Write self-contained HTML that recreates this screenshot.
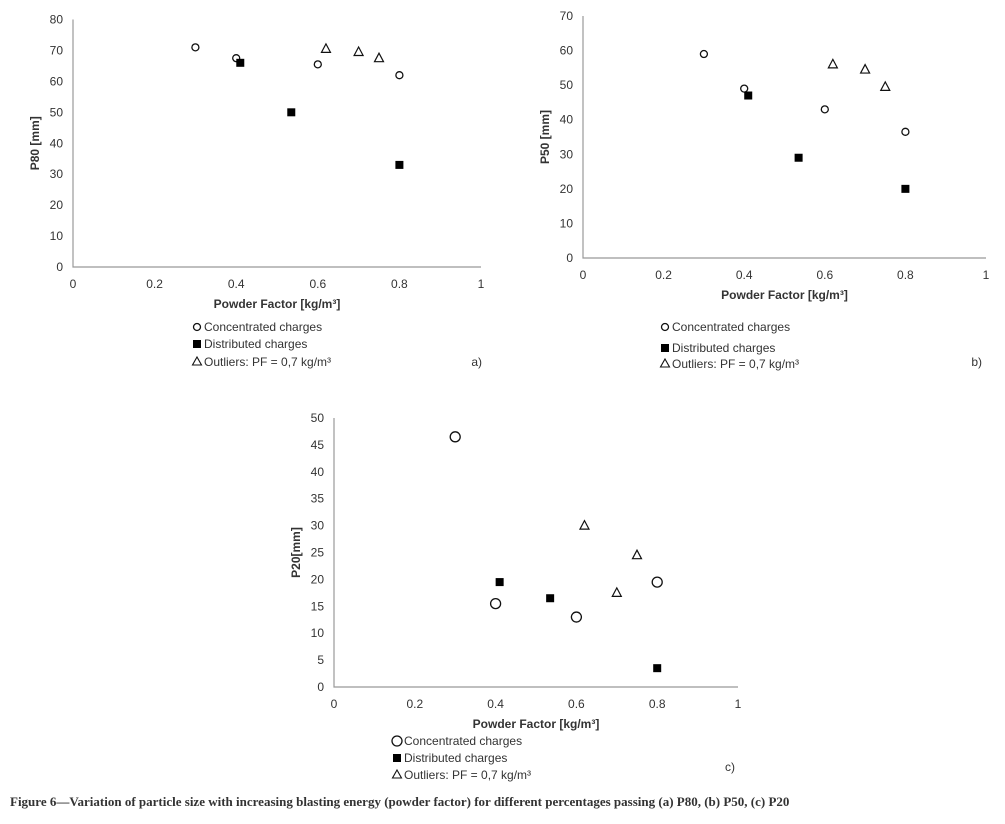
<!DOCTYPE html>
<html><head><meta charset="utf-8"><style>
body{margin:0;background:#fff;width:1005px;height:824px;overflow:hidden}
svg{display:block}
text{font-family:"Liberation Sans",sans-serif;fill:#333}
</style></head><body>
<svg id="fig" width="1005" height="824" viewBox="0 0 1005 824"></svg>
<script>
const xTicks=[0,0.2,0.4,0.6,0.8,1];
const xTickLabels=["0","0.2","0.4","0.6","0.8","1"];
const aConcX=[0.3,0.4,0.6,0.8];const aConcY=[71,67.5,65.5,62];
const aDistX=[0.41,0.535,0.8];const aDistY=[66,50,33];
const aOutX=[0.62,0.7,0.75];const aOutY=[70.5,69.5,67.5];
const bConcX=[0.3,0.4,0.6,0.8];const bConcY=[59,49,43,36.5];
const bDistX=[0.41,0.535,0.8];const bDistY=[47,29,20];
const bOutX=[0.62,0.7,0.75];const bOutY=[56,54.5,49.5];
const cConcX=[0.3,0.4,0.6,0.8];const cConcY=[46.5,15.5,13,19.5];
const cDistX=[0.41,0.535,0.8];const cDistY=[19.5,16.5,3.5];
const cOutX=[0.62,0.7,0.75];const cOutY=[30,17.5,24.5];
const aYTicks=[0,10,20,30,40,50,60,70,80];
const bYTicks=[0,10,20,30,40,50,60,70];
const cYTicks=[0,5,10,15,20,25,30,35,40,45,50];

const svg=document.getElementById('fig');const NS='http://www.w3.org/2000/svg';
function mk(tag,attrs,parent,txt){const e=document.createElementNS(NS,tag);for(const k in attrs)e.setAttribute(k,attrs[k]);if(txt!==undefined)e.textContent=txt;(parent||svg).appendChild(e);return e;}

function chart(id,cfg){
  const g=mk('g',{});
  
  
  const sx=v=>cfg.x0+(cfg.x1-cfg.x0)*v;
  const sy=v=>cfg.y0-(cfg.y0-cfg.yTop)*v/cfg.yMax;
  const ax=mk('path',{d:`M${cfg.x0},${cfg.yTop} V${cfg.y0} H${cfg.x1}`,stroke:'#999',fill:'none','stroke-width':1.2},g);
  
  cfg.yTicks.forEach(t=>{const e=mk('text',{x:cfg.x0-10,y:sy(t)+4,'text-anchor':'end','font-size':cfg.fs},g,String(t));
    });
  xTicks.forEach((t,i)=>{const e=mk('text',{x:sx(t),y:cfg.y0+21,'text-anchor':'middle','font-size':cfg.fs},g,xTickLabels[i]);
    });
  const xt=mk('text',{x:(cfg.x0+cfg.x1)/2,y:cfg.y0+41,'text-anchor':'middle','font-size':cfg.fs,'font-weight':'bold',fill:'#222'},g,'Powder Factor [kg/m³]');
  
  const yx=cfg.x0-34,yy=(cfg.y0+cfg.yTop)/2;
  const yt=mk('text',{x:yx,y:yy,'text-anchor':'middle','font-size':cfg.fs,'font-weight':'bold',fill:'#222',transform:`rotate(-90 ${yx} ${yy})`},g,cfg.ylabel);
  
  const r=cfg.r;
  cfg.cx.forEach((v,i)=>{const e=mk('circle',{cx:sx(v),cy:sy(cfg.cy[i]),r:r,fill:'#fff',stroke:'#111','stroke-width':1.3},g);
    });
  cfg.dx.forEach((v,i)=>{const e=mk('rect',{x:sx(v)-4,y:sy(cfg.dy[i])-4,width:8,height:8,fill:'#000'},g);
    });
  cfg.ox.forEach((v,i)=>{const px=sx(v),py=sy(cfg.oy[i]);
    const e=mk('path',{d:`M${px},${py-5} L${px+4.5},${py+3.5} L${px-4.5},${py+3.5} Z`,fill:'#fff',stroke:'#111','stroke-width':1.2},g);
    });
  const L=cfg.leg;
  const l1=mk('g',{},g);
  mk('circle',{cx:L.x+4,cy:L.y[0]-4,r:cfg.lr,fill:'#fff',stroke:'#111','stroke-width':1.3},l1);
  mk('text',{x:L.x+11,y:L.y[0],'font-size':cfg.fs},l1,'Concentrated charges');
  const l2=mk('g',{},g);
  mk('rect',{x:L.x,y:L.y[1]-8,width:8,height:8,fill:'#000'},l2);
  mk('text',{x:L.x+11,y:L.y[1],'font-size':cfg.fs},l2,'Distributed charges');
  const l3=mk('g',{},g);
  mk('path',{d:`M${L.x+4},${L.y[2]-9} L${L.x+8.5},${L.y[2]-1} L${L.x-0.5},${L.y[2]-1} Z`,fill:'#fff',stroke:'#111','stroke-width':1.1},l3);
  mk('text',{x:L.x+11,y:L.y[2],'font-size':cfg.fs},l3,'Outliers: PF = 0,7 kg/m³');
  const pl=mk('text',{x:cfg.panel[0],y:cfg.panel[1],'font-size':cfg.fs,'text-anchor':'end'},g,cfg.panelText);
  
}
chart('p80',{x0:73,x1:481,y0:267,yTop:19.5,yMax:80,yTicks:aYTicks,ylabel:'P80 [mm]',fs:12,r:3.5,lr:3.5,
  cx:aConcX,cy:aConcY,dx:aDistX,dy:aDistY,ox:aOutX,oy:aOutY,leg:{x:193,y:[331,348,366]},panel:[482,366],panelText:'a)'});
chart('p50',{x0:583,x1:986,y0:258,yTop:16,yMax:70,yTicks:bYTicks,ylabel:'P50 [mm]',fs:12,r:3.5,lr:3.5,
  cx:bConcX,cy:bConcY,dx:bDistX,dy:bDistY,ox:bOutX,oy:bOutY,leg:{x:661,y:[331,352,368]},panel:[982,366],panelText:'b)'});
chart('p20',{x0:334,x1:738,y0:687,yTop:418,yMax:50,yTicks:cYTicks,ylabel:'P20[mm]',fs:12,r:5,lr:5,
  cx:cConcX,cy:cConcY,dx:cDistX,dy:cDistY,ox:cOutX,oy:cOutY,leg:{x:393,y:[745,762,779]},panel:[735,771],panelText:'c)'});
const cap=mk('text',{x:10,y:806,'font-size':13,'font-weight':'bold',fill:'#222',style:'font-family:"Liberation Serif",serif'},svg,'Figure 6—Variation of particle size with increasing blasting energy (powder factor) for different percentages passing (a) P80, (b) P50, (c) P20');

</script>
</body></html>
